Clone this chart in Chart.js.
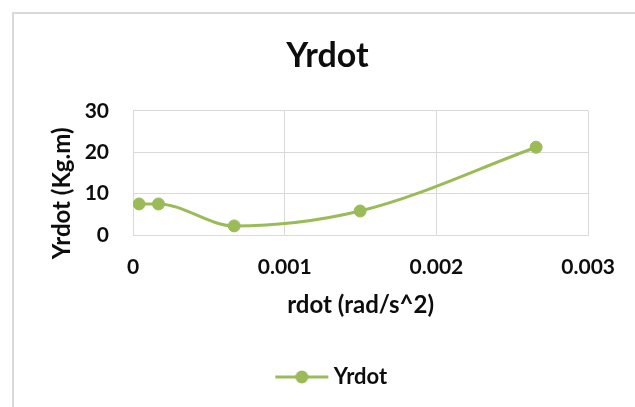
<!DOCTYPE html>
<html>
<head>
<meta charset="utf-8">
<script src="https://cdn.jsdelivr.net/npm/chart.js@4.4.1/dist/chart.umd.min.js"></script>
<style>
  html, body { margin: 0; padding: 0; background: #ffffff; overflow: hidden; }
  #frame { position: absolute; left: 12px; top: 12px; width: 700px; height: 500px;
           border-left: 2px solid #d9d9d9; border-top: 2px solid #d9d9d9; box-sizing: border-box; }
  #wrap { position: absolute; left: 0; top: 0; width: 635px; height: 407px; }
</style>
</head>
<body>
<div id="frame"></div>
<div id="wrap"><canvas id="c"></canvas></div>
<script>
// ---- data ----
const seriesName = 'Yrdot';
const rdotValues  = [0.00004, 0.000168, 0.000667, 0.001497, 0.002657];
const yrdotValues = [7.5, 7.5, 2.2, 5.8, 21.2];
const xTickValues = [0, 0.001, 0.002, 0.003];
const xTickLabels = ['0', '0.001', '0.002', '0.003'];
const yTickValues = [0, 10, 20, 30];
const yTickLabels = ['0', '10', '20', '30'];
const chartTitle = 'Yrdot';
const xAxisTitle = 'rdot (rad/s^2)';
const yAxisTitle = 'Yrdot (Kg.m)';

const GREEN = '#9BBB59';
const GRID = '#d9d9d9';
const TEXT = '#0d0d0d';
const FONT = 'Lato, "Open Sans", sans-serif';

// legend symbol: line with a round marker
const sym = document.createElement('canvas');
sym.width = 68; sym.height = 16;
(function () {
  const g = sym.getContext('2d');
  g.strokeStyle = GREEN; g.lineWidth = 3;
  g.beginPath(); g.moveTo(14, 8); g.lineTo(67, 8); g.stroke();
  g.fillStyle = GREEN;
  g.beginPath(); g.arc(40.5, 8, 6.5, 0, Math.PI * 2); g.fill();
})();

const points = rdotValues.map((x, i) => ({ x: x, y: yrdotValues[i] }));

new Chart(document.getElementById('c'), {
  type: 'scatter',
  data: {
    datasets: [{
      label: seriesName,
      data: points,
      showLine: true,
      borderColor: GREEN,
      backgroundColor: GREEN,
      borderWidth: 3,
      cubicInterpolationMode: 'monotone',
      pointRadius: 6,
      pointBorderWidth: 1,
      pointBorderColor: GREEN,
      pointBackgroundColor: GREEN,
      pointHoverRadius: 6
    }]
  },
  options: {
    responsive: true,
    maintainAspectRatio: false,
    animation: false,
    layout: { padding: { left: 20, right: 0, top: 0, bottom: 9 } },
    plugins: {
      tooltip: { enabled: false },
      title: {
        display: true,
        text: chartTitle,
        color: TEXT,
        font: { family: FONT, size: 34, weight: 'bold' },
        padding: { top: 36, bottom: 34 }
      },
      legend: {
        display: true,
        position: 'bottom',
        labels: {
          usePointStyle: true,
          pointStyle: sym,
          pointStyleWidth: 55,
          color: TEXT,
          font: { family: FONT, size: 22, weight: 'bold' },
          padding: 41
        }
      }
    },
    scales: {
      x: {
        type: 'linear',
        min: 0, max: 0.003,
        afterBuildTicks: (s) => { s.ticks = xTickValues.map(v => ({ value: v })); },
        afterFit: (s) => { s.height = 90; },
        ticks: {
          color: TEXT,
          font: { family: FONT, size: 21, weight: 'bold' },
          padding: 20,
          maxRotation: 0,
          callback: (v) => { const i = xTickValues.indexOf(v); return i >= 0 ? xTickLabels[i] : ''; }
        },
        grid: { color: GRID, lineWidth: 1, drawTicks: false },
        border: { color: GRID, width: 1 },
        title: {
          display: true,
          text: xAxisTitle,
          color: TEXT,
          font: { family: FONT, size: 24, weight: 'bold' },
          padding: { top: 0, bottom: 5 }
        }
      },
      y: {
        type: 'linear',
        min: 0, max: 30,
        afterBuildTicks: (s) => { s.ticks = yTickValues.map(v => ({ value: v })); },
        afterFit: (s) => { s.width = 113; },
        ticks: {
          color: TEXT,
          font: { family: FONT, size: 21, weight: 'bold' },
          padding: 24,
          callback: (v) => { const i = yTickValues.indexOf(v); return i >= 0 ? yTickLabels[i] : ''; }
        },
        grid: { color: GRID, lineWidth: 1, drawTicks: false },
        border: { color: GRID, width: 1 },
        title: {
          display: true,
          text: yAxisTitle + '       ',
          color: TEXT,
          font: { family: FONT, size: 24, weight: 'bold' },
          padding: { top: 28, bottom: 0 }
        }
      },
      yRight: {
        type: 'linear',
        position: 'right',
        display: true,
        afterFit: (s) => { s.width = 46; },
        grid: { display: false, drawTicks: false },
        ticks: { display: false },
        border: { display: false }
      }
    }
  }
});
</script>
</body>
</html>
